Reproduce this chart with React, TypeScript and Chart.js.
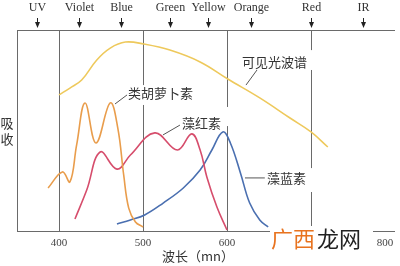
import React, { useEffect, useRef } from "react";
import { Chart, registerables } from "chart.js";

Chart.register(...registerables);

// Top spectral band markers (wavelength, nm)
const bandLabels = ["UV", "Violet", "Blue", "Green", "Yellow", "Orange", "Red", "IR"];
const bandWavelengths = [374, 424, 474, 532, 577, 628, 700, 762];

// X tick labels (700 hidden under the watermark in the reference)
const tickValues = [400, 500, 600, 800];
const tickLabels = ["400", "500", "600", "800"];

// 可见光波谱 (visible light spectrum)
const spectrumNm = [400, 413, 427, 445, 461, 479, 501, 532, 568, 601, 639, 675, 700, 720];
const spectrumVal = [67.7, 71.1, 75.1, 85.1, 91.0, 94.0, 93.0, 90.0, 84.1, 75.6, 66.2, 56.2, 49.3, 41.8];

// 类胡萝卜素 (carotenoids)
const caroteneNm = [387, 404, 413, 421, 431, 444, 461, 470, 477, 483, 491, 500];
const caroteneVal = [21.4, 29.4, 24.4, 42.8, 63.7, 43.8, 63.7, 51.2, 27.9, 11.4, 4.5, 2.0];

// 藻红素 (phycoerythrin)
const erythrinNm = [419, 433, 449, 469, 485, 514, 541, 558, 568, 576, 588, 600];
const erythrinVal = [6.0, 20.4, 39.3, 30.8, 37.8, 48.8, 40.3, 48.3, 40.3, 26.9, 11.9, 0.5];

// 藻蓝素 (phycocyanin)
const cyaninNm = [469, 485, 502, 524, 548, 568, 582, 595, 604, 616, 627, 639, 649];
const cyaninVal = [3.5, 5.5, 8.0, 13.9, 21.4, 30.3, 40.3, 49.3, 43.8, 28.9, 13.9, 5.5, 2.0];

const toPoints = (xs: number[], ys: number[]) => xs.map((x, i) => ({ x, y: ys[i] }));

const LINE = "#6a6a6a";
const TEXT = "#333333";
const CJK = '"Noto Sans CJK SC", "Noto Sans", sans-serif';
const SERIF = '"Liberation Serif", "DejaVu Serif", serif';

const decorPlugin = {
  id: "decor",
  beforeDatasetsDraw(chart: any) {
    const { ctx, chartArea: a, scales } = chart;
    const xs = scales.x;
    const ys = scales.y;
    ctx.save();
    ctx.strokeStyle = LINE;
    ctx.lineWidth = 1;
    const vline = (x: number, y1: number, y2: number) => {
      ctx.beginPath();
      ctx.moveTo(Math.round(x) + 0.5, y1);
      ctx.lineTo(Math.round(x) + 0.5, y2);
      ctx.stroke();
    };
    // frame: top, left, bottom
    ctx.beginPath();
    ctx.moveTo(a.left, a.top + 0.5);
    ctx.lineTo(a.right, a.top + 0.5);
    ctx.moveTo(a.left, a.bottom + 0.5);
    ctx.lineTo(a.right, a.bottom + 0.5);
    ctx.stroke();
    vline(a.left, a.top, a.bottom);
    // vertical guides (with gaps for labels)
    const guides: [number, [number, number][]][] = [
      [400, []],
      [500, [[72.6, 62.7]]],
      [600, [[61.7, 52.2]]],
      [700, [[90.0, 80.1], [31.3, 19.4]]],
    ];
    guides.forEach(([nm, gaps]) => {
      const x = xs.getPixelForValue(nm);
      let yStart = a.top;
      gaps.forEach(([hi, lo]) => {
        vline(x, yStart, ys.getPixelForValue(hi));
        yStart = ys.getPixelForValue(lo);
      });
      vline(x, yStart, a.bottom);
    });
    // top band labels + arrows
    ctx.fillStyle = TEXT;
    ctx.font = `12px ${SERIF}`;
    ctx.textAlign = "center";
    ctx.textBaseline = "middle";
    bandLabels.forEach((lab, i) => {
      const x = Math.round(xs.getPixelForValue(bandWavelengths[i])) + 0.5;
      ctx.fillText(lab, x, 8);
      ctx.strokeStyle = "#222";
      ctx.beginPath();
      ctx.moveTo(x, 18);
      ctx.lineTo(x, 24);
      ctx.stroke();
      ctx.fillStyle = "#222";
      ctx.beginPath();
      ctx.moveTo(x - 2.5, 22);
      ctx.lineTo(x + 2.5, 22);
      ctx.lineTo(x, 28);
      ctx.closePath();
      ctx.fill();
      ctx.fillStyle = TEXT;
    });
    // x tick labels
    ctx.font = `11px ${SERIF}`;
    ctx.fillStyle = "#444";
    tickValues.forEach((v, i) => {
      let x = xs.getPixelForValue(v);
      if (x > a.right - 12) x = a.right - 10;
      ctx.fillText(tickLabels[i], x, 243);
    });
    // axis titles
    ctx.font = `13px ${CJK}`;
    ctx.fillStyle = TEXT;
    ctx.fillText("波长（mn）", 198, 256);
    ctx.fillText("吸", 7, 123);
    ctx.fillText("收", 7, 139);
    ctx.restore();
  },
  afterDatasetsDraw(chart: any) {
    const { ctx, scales } = chart;
    const xs = scales.x;
    const ys = scales.y;
    ctx.save();
    ctx.strokeStyle = "#555";
    ctx.lineWidth = 1;
    const leaders: [number, number, number, number][] = [
      [466.7, 63.2, 481, 67.7],
      [523.8, 47.8, 544, 52.7],
      [621.4, 26.4, 645, 26.4],
      [622.6, 72.6, 635.7, 80.1],
    ];
    leaders.forEach(([x1, y1, x2, y2]) => {
      ctx.beginPath();
      ctx.moveTo(xs.getPixelForValue(x1), ys.getPixelForValue(y1));
      ctx.lineTo(xs.getPixelForValue(x2), ys.getPixelForValue(y2));
      ctx.stroke();
    });
    const labels: [string, number, number][] = [
      ["类胡萝卜素", 482.1, 68.7],
      ["藻红素", 546.4, 53.7],
      ["藻蓝素", 647.6, 26.4],
      ["可见光波谱", 617.9, 84.1],
    ];
    ctx.font = `13px ${CJK}`;
    ctx.fillStyle = TEXT;
    ctx.textAlign = "left";
    ctx.textBaseline = "middle";
    labels.forEach(([t, x, y]) => {
      ctx.fillText(t, xs.getPixelForValue(x), ys.getPixelForValue(y));
    });
    // watermark
    ctx.fillStyle = "#ffffff";
    ctx.fillRect(270, 226, 103, 25);
    ctx.font = `22px ${CJK}`;
    ctx.fillStyle = "#e8731f";
    ctx.fillText("广西", 271, 239);
    ctx.fillStyle = "#222222";
    ctx.fillText("龙网", 317, 239);
    ctx.restore();
  },
};

export default function App() {
  const ref = useRef<HTMLCanvasElement | null>(null);
  useEffect(() => {
    if (!ref.current) return;
    const ds = (data: { x: number; y: number }[], color: string) => ({
      data,
      borderColor: color,
      borderWidth: 1.6,
      pointRadius: 0,
      tension: 0.4,
      fill: false,
    });
    const chart = new Chart(ref.current, {
      type: "line",
      data: {
        datasets: [
          ds(toPoints(spectrumNm, spectrumVal), "#eec95c"),
          ds(toPoints(caroteneNm, caroteneVal), "#e99d4c"),
          ds(toPoints(erythrinNm, erythrinVal), "#d64d6c"),
          ds(toPoints(cyaninNm, cyaninVal), "#4a6fb0"),
        ],
      },
      options: {
        animation: false,
        responsive: false,
        devicePixelRatio: 1,
        layout: { padding: { left: 17, top: 30, right: 5, bottom: 35 } },
        scales: {
          x: { type: "linear", min: 350, max: 800, display: false },
          y: { type: "linear", min: 0, max: 100, display: false },
        },
        plugins: { legend: { display: false }, tooltip: { enabled: false } },
      },
      plugins: [decorPlugin],
    });
    return () => chart.destroy();
  }, []);
  return (
    <div style={{ position: "fixed", left: 0, top: 0, width: 400, height: 266, background: "#fff" }}>
      <canvas ref={ref} width={400} height={266} />
    </div>
  );
}
